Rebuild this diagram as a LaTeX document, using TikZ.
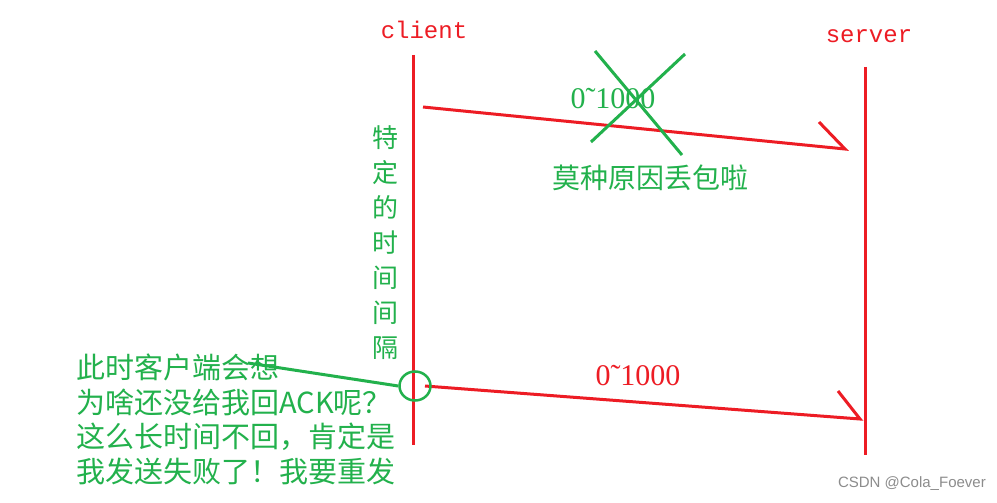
\documentclass[tikz,border=0pt]{standalone}
\usepackage{fontspec}
\usetikzlibrary{shapes.geometric}
\setmainfont{Liberation Serif}
\newfontfamily\cjk{Noto Sans CJK SC}
\newfontfamily\monof{Liberation Mono}
\newfontfamily\wmf{Liberation Sans}
\definecolor{pred}{HTML}{ED1C24}
\definecolor{pgreen}{HTML}{22B14C}
\begin{document}
\begin{tikzpicture}[x=1pt,y=-1pt,
  redline/.style={draw=pred,line width=3pt},
  greenline/.style={draw=pgreen,line width=3pt},
  lbl/.style={inner sep=0pt,anchor=center},
  cjktext/.style={lbl,text=pgreen,font=\cjk\fontsize{28}{34}\selectfont},
  numtext/.style={lbl,font=\fontsize{30}{32}\selectfont},
  hosttext/.style={lbl,text=pred,font=\monof\fontsize{24}{26}\selectfont}]
\useasboundingbox (0,0) rectangle (997,503);
\fill[white] (0,0) rectangle (997,503);
% hosts
\node[hosttext] (client) at (424,30) {client};
\node[hosttext] (server) at (869,36) {server};
\coordinate (ctop) at (413,55);
\coordinate (cbot) at (413,445);
\coordinate (stop) at (865,67);
\coordinate (sbot) at (865,455);
\draw[redline] (ctop) -- (cbot);
\draw[redline] (stop) -- (sbot);
% first (lost) message
\coordinate (m1s) at (423,107);
\coordinate (m1e) at (845,149);
\coordinate (m1h) at (819,122);
\draw[redline] (m1s) -- (m1e) -- (m1h);
\node[numtext,text=pgreen] (n1) at (613,99) {0˜1000};
\coordinate (x1a) at (595,51);
\coordinate (x1b) at (682,155);
\coordinate (x2a) at (685,54);
\coordinate (x2b) at (591,142);
\draw[greenline] (x1a) -- (x1b);
\draw[greenline] (x2a) -- (x2b);
\node[cjktext] (lost) at (650,178) {莫种原因丢包啦};
% interval
\node[cjktext,align=center,font=\cjk\fontsize{26}{35}\selectfont] (interval) at (385,243) {特\\定\\的\\时\\间\\间\\隔};
% second message
\coordinate (m2s) at (425,386);
\coordinate (m2e) at (860,419);
\coordinate (m2h) at (838,391);
\draw[redline] (m2s) -- (m2e) -- (m2h);
\node[numtext,text=pred] (n2) at (638,376) {0˜1000};
% circle and note
\node[draw=pgreen,line width=2.5pt,ellipse,minimum width=31pt,minimum height=29pt,inner sep=0pt] (circ) at (415,386) {};
\node[cjktext,anchor=north west,align=left,font=\cjk\fontsize{29}{34.5}\selectfont] (note) at (76,354)
 {此时客户端会想\\为啥还没给我回ACK呢？\\这么长时间不回，肯定是\\我发送失败了！我要重发};
\coordinate (notept) at (248,363);
\draw[greenline] (notept) -- (circ.west);
% watermark
\node[lbl,anchor=east,text=black!45,font=\wmf\fontsize{15}{17}\selectfont] (wm) at (986,484) {CSDN @Cola\_Foever};
\end{tikzpicture}
\end{document}
